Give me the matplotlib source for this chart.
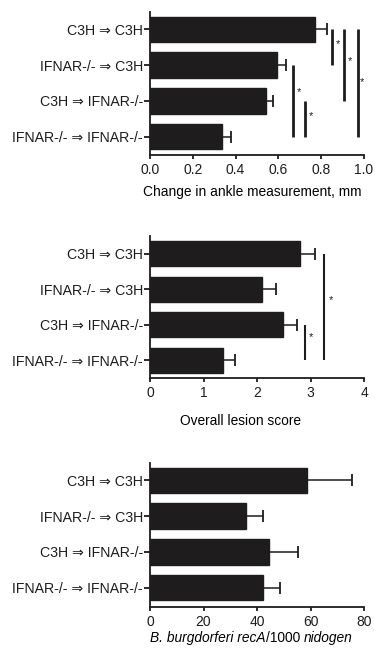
import numpy as np
import matplotlib
matplotlib.use('Agg')
import matplotlib.pyplot as plt

plt.rcParams['font.family'] = ['Liberation Sans', 'DejaVu Sans']

groups = ['C3H \u21d2 C3H', 'IFNAR-/- \u21d2 C3H', 'C3H \u21d2 IFNAR-/-', 'IFNAR-/- \u21d2 IFNAR-/-']

# panel A: ankle swelling
ankle_mean = [0.770, 0.593, 0.541, 0.337]
ankle_err = [0.056, 0.042, 0.034, 0.041]
ankle_ticks = [0.0, 0.2, 0.4, 0.6, 0.8, 1.0]
ankle_ticklabels = ['0.0', '0.2', '0.4', '0.6', '0.8', '1.0']
# (x of line, first bar, last bar, star x, star y)
ankle_sig = [(0.852, 0, 1, 0.879, 0.42),
             (0.908, 0, 2, 0.933, 0.88),
             (0.970, 0, 3, 0.992, 1.48),
             (0.669, 1, 3, 0.697, 1.75),
             (0.726, 2, 3, 0.751, 2.42)]

# panel B: lesion score
lesion_mean = [2.81, 2.10, 2.48, 1.36]
lesion_err = [0.28, 0.26, 0.26, 0.22]
lesion_ticks = [0, 1, 2, 3, 4]
lesion_sig = [(2.89, 2, 3, 3.00, 2.35),
              (3.25, 0, 3, 3.39, 1.30)]

# panel C: spirochete load
load_mean = [58.8, 35.8, 44.4, 42.1]
load_err = [16.6, 6.6, 11.1, 6.5]
load_ticks = [0, 20, 40, 60, 80]

BAR = '#1e1c1d'
FS = 9.9

fig = plt.figure(figsize=(3.75, 6.56), dpi=100)


def panel(rect, means, errs, ticks, ticklabels, ylim, sig=None, sig_lw=2.0):
    ax = fig.add_axes(rect)
    y = np.arange(len(groups))
    ax.barh(y, means, height=0.71, color=BAR, edgecolor=BAR,
            xerr=[np.zeros(len(errs)), errs], capsize=4.5,
            error_kw=dict(ecolor=BAR, elinewidth=1.1, capthick=1.3))
    ax.set_ylim(ylim)
    ax.set_xlim(ticks[0], ticks[-1])
    ax.set_yticks(y)
    ax.set_yticklabels(groups, fontsize=10.2)
    ax.set_xticks(ticks)
    ax.set_xticklabels(ticklabels, fontsize=10)
    for s in ['top', 'right']:
        ax.spines[s].set_visible(False)
    for s in ['left', 'bottom']:
        ax.spines[s].set_linewidth(1.3)
        ax.spines[s].set_color(BAR)
    ax.spines['bottom'].set_bounds(ticks[0], ticks[-1])
    ax.tick_params(axis='both', direction='out', width=1.3, colors=BAR)
    ax.tick_params(axis='x', length=3, pad=2.6)
    ax.tick_params(axis='y', length=4, pad=1)
    if sig:
        for xl, a, b, sx, sy in sig:
            ax.plot([xl, xl], [a, b], color=BAR, lw=sig_lw, solid_capstyle='butt',
                    clip_on=False)
            ax.text(sx, sy, '*', fontsize=8, ha='center', va='center', color=BAR)
    return ax


def xlabel_parts(ax, parts, dy, dx=0.0):
    # parts: list of (text, style, gap before in points); placed left to right on one baseline
    prev = None
    for txt, style, gap in parts:
        if prev is None:
            prev = ax.annotate(txt, xy=(0, 0), xycoords='axes fraction',
                               xytext=(dx, -dy), textcoords='offset points',
                               ha='left', va='baseline', fontsize=FS, style=style)
        else:
            prev = ax.annotate(txt, xy=(1, 0), xycoords=(prev, 'axes fraction'),
                               xytext=(gap, -dy), textcoords='offset points',
                               ha='left', va='baseline', fontsize=FS, style=style)


ax1 = panel([0.400, 0.7637, 0.5707, 0.2184], ankle_mean, ankle_err, ankle_ticks,
            ankle_ticklabels, (3.51, -0.49), ankle_sig, 2.0)
xlabel_parts(ax1, [('Change in ankle measurement, mm', 'normal', 0)], 29.5, -4.8)

ax2 = panel([0.400, 0.4233, 0.5707, 0.2169], lesion_mean, lesion_err, lesion_ticks,
            [str(t) for t in lesion_ticks], (3.50, -0.49), lesion_sig, 1.5)
xlabel_parts(ax2, [('Overall lesion score', 'normal', 0)], 33.5, 21.6)

ax3 = panel([0.400, 0.0742, 0.5707, 0.2204], load_mean, load_err, load_ticks,
            [str(t) for t in load_ticks], (3.55, -0.49))
xlabel_parts(ax3, [('B. burgdorferi recA', 'italic', 0),
                   ('/1000', 'normal', 0),
                   ('nidogen', 'italic', 2.7)], 24.8, 0.0)

fig.savefig('out.png', dpi=100)
